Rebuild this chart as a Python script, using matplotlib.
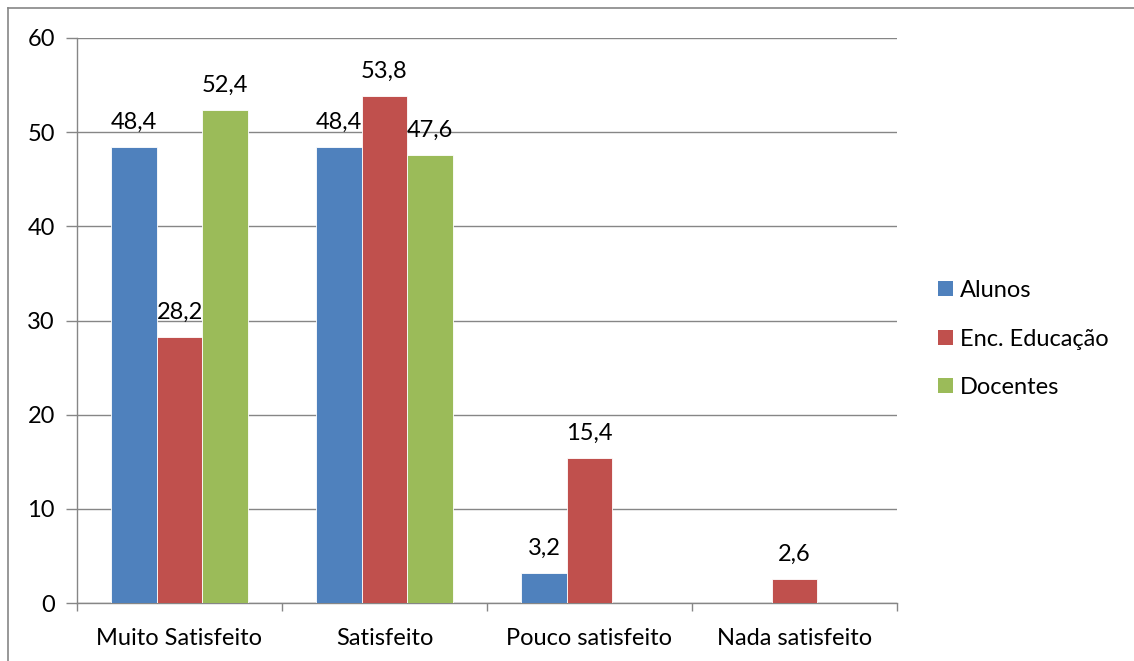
import matplotlib
matplotlib.use("Agg")
import matplotlib.pyplot as plt
import numpy as np
from matplotlib.lines import Line2D
from matplotlib.patches import Patch

categories = ["Muito Satisfeito", "Satisfeito", "Pouco satisfeito", "Nada satisfeito"]
series_names = ["Alunos", "Enc. Educação", "Docentes"]
alunos = [48.4, 48.4, 3.2, None]
enc_educacao = [28.2, 53.8, 15.4, 2.6]
docentes = [52.4, 47.6, None, None]
colors = ["#4F81BD", "#C0504D", "#9BBB59"]
yticks = [0, 10, 20, 30, 40, 50, 60]

plt.rcParams['font.family'] = ['Lato', 'DejaVu Sans']
FS = 17

fig = plt.figure(figsize=(11.34, 6.61), dpi=100)
ax = fig.add_axes([77/1134, 58/661, 820/1134, 565/661])

x = np.arange(len(categories))
bw = 0.2225
series = [alunos, enc_educacao, docentes]
for i, (vals, c, name) in enumerate(zip(series, colors, series_names)):
    offs = (i - 1) * bw
    for j, v in enumerate(vals):
        if v is None:
            continue
        ax.bar(x[j] + offs, v, width=bw, color=c, edgecolor='white', linewidth=0.6, zorder=3)
        ax.text(x[j] + offs, v + 1.5, f"{v:.1f}".replace('.', ','), ha='center', va='bottom',
                fontsize=FS, color='black', zorder=4)

ax.set_xlim(-0.5, len(categories) - 0.5)
ax.set_ylim(0, 60)
ax.set_yticks(yticks)
ax.set_yticklabels([str(t) for t in yticks], fontsize=FS)
ax.yaxis.grid(True, color='#868686', linewidth=1.0, zorder=0)
ax.set_axisbelow(True)

ax.set_xticks(x)
ax.set_xticklabels(categories, fontsize=FS)
ax.tick_params(axis='x', length=0, pad=18)
ax.set_xticks(np.arange(len(categories) + 1) - 0.5, minor=True)
ax.tick_params(axis='x', which='minor', length=6, color='#868686', width=1.0)
ax.tick_params(axis='y', length=8, color='#868686', width=1.0, pad=8)

for s in ['top', 'right']:
    ax.spines[s].set_visible(False)
for s in ['left', 'bottom']:
    ax.spines[s].set_color('#868686')
    ax.spines[s].set_linewidth(1.0)

handles = [Patch(facecolor=c, edgecolor='none') for c in colors]
fig.legend(handles, series_names, loc='center left', bbox_to_anchor=(938/1134, 1 - 339/661),
           frameon=False, fontsize=FS, handlelength=0.62, handleheight=0.62,
           handletextpad=0.3, labelspacing=1.17, borderpad=0.0, borderaxespad=0.0)

# outer chart border (top and left visible)
fig.add_artist(Line2D([8/1134, 1.0], [1 - 8/661, 1 - 8/661], color='#868686', linewidth=1.2,
                      transform=fig.transFigure))
fig.add_artist(Line2D([8/1134, 8/1134], [0.0, 1 - 8/661], color='#868686', linewidth=1.2,
                      transform=fig.transFigure))

fig.savefig("out.png", dpi=100, facecolor='white')
